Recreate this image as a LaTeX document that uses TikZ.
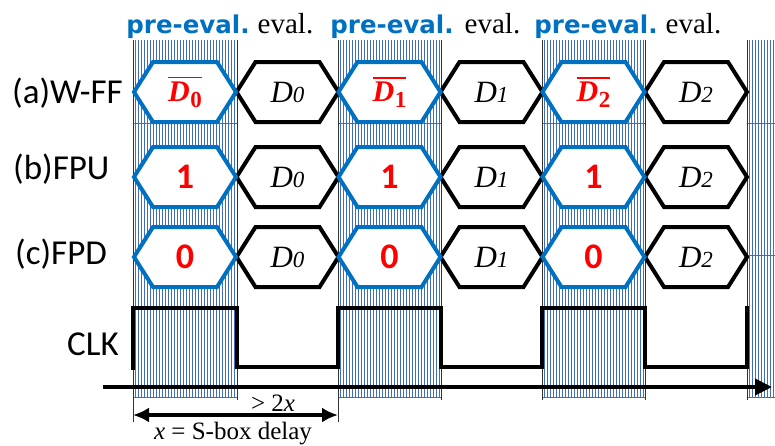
\documentclass[tikz,border=0pt]{standalone}
\usepackage{fontspec}
\setmainfont{Liberation Serif}
\newfontfamily\labelfont{Carlito}
\newfontfamily\phasefont{DejaVu Sans}
\usetikzlibrary{arrows.meta}

\definecolor{hexblue}{RGB}{0,112,192}
\definecolor{hatch}{RGB}{62,108,200}

% complemented data value: bold italic D, bold subscript, bar on top
\newcommand{\negD}[1]{\textcolor{red}{\vbox{\hrule height 1.8pt\kern 3pt
  \hbox{\fontsize{30}{30}\selectfont\bfseries\itshape D\kern0.5pt%
  \raisebox{-6pt}{\fontsize{23}{23}\selectfont\upshape #1}}}}}
% evaluated data value
\newcommand{\valD}[1]{{\fontsize{31}{31}\selectfont\itshape D{\fontsize{23}{23}\selectfont #1}}}
% constant precharge value
\newcommand{\cst}[1]{\textcolor{red}{\labelfont\bfseries\fontsize{36}{36}\selectfont #1}}

\tikzset{
  pics/hexcell/.style n args={2}{code={
    \draw[#1] (-51,0) -- (-32,-30) -- (32,-30) -- (51,0) -- (32,30) -- (-32,30) -- cycle;
    \node[inner sep=0] (-txt) at (0,0) {#2};
  }}
}

\begin{document}
\begin{tikzpicture}[x=1pt,y=-1pt,
  hatchline/.style={draw=hatch, line width=0.95pt},
  hatchrule/.style={draw=hatch, line width=0.8pt},
  edgeline/.style={draw=black!80, line width=0.8pt},
  bluehex/.style={draw=hexblue, fill=white, line width=4pt, line join=miter},
  blackhex/.style={draw=black, fill=white, line width=4pt, line join=miter},
  rowlabel/.style={font=\labelfont\fontsize{35}{35}\selectfont, inner sep=0},
  prelab/.style={font=\phasefont\bfseries\fontsize{24.5}{24.5}\selectfont, text=hexblue, inner sep=0, anchor=base},
  evallab/.style={font=\fontsize{29}{29}\selectfont, inner sep=0, anchor=base},
  signal/.style={line width=4pt, line join=miter, line cap=rect},
  timeaxis/.style={line width=4pt, -{Triangle[length=17pt,width=16pt]}},
  dimarrow/.style={line width=3.5pt, {Latex[length=16pt,width=15pt]}-{Latex[length=16pt,width=15pt]}},
  dimlabel/.style={inner sep=0, anchor=base, font=\fontsize{25}{25}\selectfont},
]
\useasboundingbox (0,0) rectangle (775,445);

% pre-evaluation phases: vertically hatched bands
\foreach \l/\r in {133/237, 338/441, 542/645, 747/775}{
  \pgfmathsetmacro\s{\l+2}
  \pgfmathsetmacro\t{\l+5}
  \foreach \x in {\s,\t,...,\r}{
    \draw[hatchline] (\x,40) -- (\x,398);
  }
  \draw[hatchrule] (\l,123) -- (\r,123);
  \draw[hatchrule] (\l,397) -- (\r,397);
}
\draw[hatchrule] (747,255) -- (775,255);

% phase boundaries
\foreach \x in {237,441,542,645,747}{
  \draw[edgeline] (\x,40) -- (\x,400);
}
\draw[edgeline] (133,40) -- (133,422);
\draw[edgeline] (338,40) -- (338,422);

% phase names
\node[prelab]  (p1) at (188,33)   {pre-eval.};
\node[evallab] (e1) at (285.5,33) {eval.};
\node[prelab]  (p2) at (392,33)   {pre-eval.};
\node[evallab] (e2) at (492.5,33) {eval.};
\node[prelab]  (p3) at (596,33)   {pre-eval.};
\node[evallab] (e3) at (693.5,33) {eval.};

% row names
\node[rowlabel, anchor=base west] (la) at (12,103) {(a)W-FF};
\node[rowlabel, anchor=base west] (lb) at (13,179) {(b)FPU};
\node[rowlabel, anchor=base west] (lc) at (15,264) {(c)FPD};
\node[rowlabel, anchor=base east] (lk) at (119,355) {CLK};

% evaluation cells
\foreach \n/\cx/\v in {1/287.5/0, 2/491.5/1, 3/696/2}{
  \pic (a\n e) at (\cx,92)  {hexcell={blackhex}{\valD{\v}}};
  \pic (b\n e) at (\cx,177) {hexcell={blackhex}{\valD{\v}}};
  \pic (c\n e) at (\cx,257) {hexcell={blackhex}{\valD{\v}}};
}
% pre-evaluation cells
\foreach \n/\cx/\v in {1/185/0, 2/389.5/1, 3/593.5/2}{
  \pic (a\n p) at (\cx,92)  {hexcell={bluehex}{\negD{\v}}};
  \pic (b\n p) at (\cx,177) {hexcell={bluehex}{\cst{1}}};
  \pic (c\n p) at (\cx,257) {hexcell={bluehex}{\cst{0}}};
}

% clock waveform
\draw[signal] (133,368) -- (133,308) -- (237,308) -- (237,367) -- (338,367)
  -- (338,308) -- (441,308) -- (441,367) -- (542,367) -- (542,308)
  -- (645,308) -- (645,367) -- (747,367) -- (747,308);

% time axis
\coordinate (t0) at (103,387);
\coordinate (t1) at (772,387);
\draw[timeaxis] (t0) -- (t1);

% period dimension
\coordinate (d0) at (133,415);
\coordinate (d1) at (338,415);
\draw[dimarrow] (d0) -- (d1);
\node[dimlabel] (gt) at (273,411) {> 2\textit{x}};
\node[dimlabel] (sb) at (233,439) {\textit{x} = S-box delay};
\end{tikzpicture}
\end{document}
